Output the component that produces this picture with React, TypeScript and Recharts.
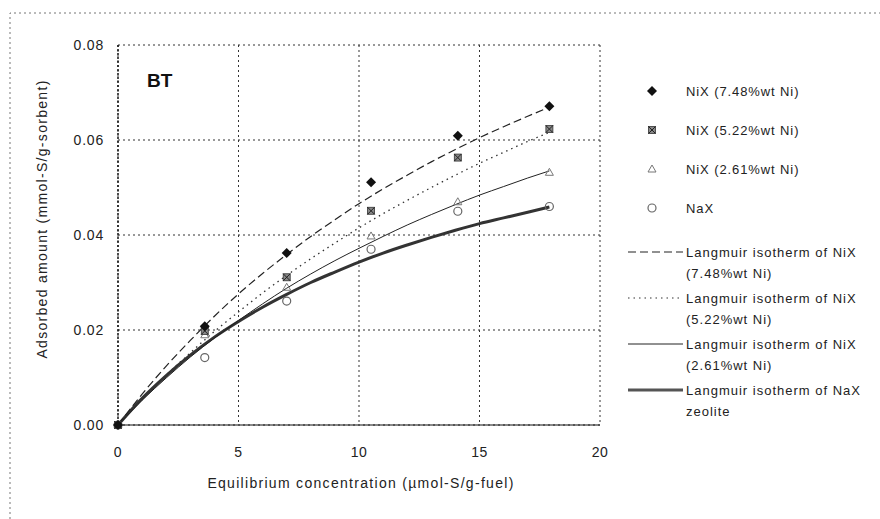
import { ComposedChart, Line, Scatter, XAxis, YAxis, CartesianGrid } from 'recharts';

// experimental equilibrium concentrations (µmol-S/g-fuel)
const expX = [0, 3.6, 7.0, 10.5, 14.1, 17.9];
const nix748 = [0, 0.0208, 0.0362, 0.0511, 0.0609, 0.0671];
const nix522 = [0, 0.0198, 0.0311, 0.0451, 0.0563, 0.0623];
const nix261 = [0, 0.0190, 0.0290, 0.0398, 0.0470, 0.0532];
const nax = [0, 0.0142, 0.0261, 0.0370, 0.0450, 0.0460];

// Langmuir isotherm curves
const curveX = [0, 1, 2, 3, 4, 5, 6, 7, 8, 9, 10, 11, 12, 13, 14, 15, 16, 17, 17.9];
const fit748 = [0, 0.0065, 0.0124, 0.0178, 0.0229, 0.0276, 0.0319, 0.0359, 0.0397, 0.0432, 0.0466, 0.0497, 0.0526, 0.0554, 0.0580, 0.0605, 0.0628, 0.0650, 0.0669];
const fit522 = [0, 0.0054, 0.0105, 0.0152, 0.0197, 0.0238, 0.0278, 0.0315, 0.0350, 0.0383, 0.0415, 0.0445, 0.0473, 0.0500, 0.0526, 0.0551, 0.0574, 0.0597, 0.0616];
const fit261 = [0, 0.0052, 0.0099, 0.0143, 0.0183, 0.0220, 0.0255, 0.0288, 0.0318, 0.0346, 0.0372, 0.0397, 0.0421, 0.0443, 0.0464, 0.0484, 0.0502, 0.0520, 0.0535];
const fitNax = [0, 0.0056, 0.0104, 0.0147, 0.0185, 0.0218, 0.0248, 0.0275, 0.0300, 0.0322, 0.0343, 0.0362, 0.0379, 0.0395, 0.0410, 0.0424, 0.0436, 0.0448, 0.0459];

const xTicks = [0, 5, 10, 15, 20];
const yTicks = [0, 0.02, 0.04, 0.06, 0.08];

const FONT = '"Liberation Sans", Arial, sans-serif';

const toPts = (xs: number[], ys: number[]) => xs.map((x, i) => ({ x, y: ys[i] }));

const Diamond = ({ cx, cy }: any) => (
  <polygon points={`${cx},${cy - 5} ${cx + 5},${cy} ${cx},${cy + 5} ${cx - 5},${cy}`} fill="#111" />
);
const HatchSquare = ({ cx, cy }: any) => (
  <g>
    <rect x={cx - 3.5} y={cy - 3.5} width={7} height={7} fill="#888" stroke="#333" strokeWidth={0.8} />
    <path d={`M${cx - 3.5},${cy - 3.5}L${cx + 3.5},${cy + 3.5}M${cx + 3.5},${cy - 3.5}L${cx - 3.5},${cy + 3.5}`} stroke="#222" strokeWidth={1} />
  </g>
);
const Triangle = ({ cx, cy }: any) => (
  <polygon points={`${cx},${cy - 4} ${cx + 4},${cy + 3} ${cx - 4},${cy + 3}`} fill="none" stroke="#777" strokeWidth={1} />
);
const Circle = ({ cx, cy }: any) => (
  <circle cx={cx} cy={cy} r={4} fill="none" stroke="#666" strokeWidth={1.2} />
);

const markerRows = [
  { label: 'NiX (7.48%wt Ni)', Shape: Diamond },
  { label: 'NiX (5.22%wt Ni)', Shape: HatchSquare },
  { label: 'NiX (2.61%wt Ni)', Shape: Triangle },
  { label: 'NaX', Shape: Circle },
];

const lineRows = [
  { l1: 'Langmuir isotherm of NiX', l2: '(7.48%wt Ni)', dash: '8 4', w: 1.2, color: '#222' },
  { l1: 'Langmuir isotherm of NiX', l2: '(5.22%wt Ni)', dash: '1.5 4', w: 1.2, color: '#333' },
  { l1: 'Langmuir isotherm of NiX', l2: '(2.61%wt Ni)', dash: undefined, w: 1, color: '#222' },
  { l1: 'Langmuir isotherm of NaX', l2: 'zeolite', dash: undefined, w: 3, color: '#555' },
];

export default function App() {
  return (
    <div style={{ position: 'absolute', left: 0, top: 0, width: 880, height: 519, background: '#fff', fontFamily: FONT }}>
      <ComposedChart width={880} height={519} margin={{ top: 45, right: 280, bottom: 64, left: 60 }}>
        <CartesianGrid stroke="#333" strokeDasharray="2 3" horizontalValues={yTicks} verticalValues={xTicks} />
        <XAxis
          type="number"
          dataKey="x"
          domain={[0, 20]}
          ticks={xTicks}
          tickLine={false}
          tickMargin={16}
          stroke="#111"
          tick={{ fill: '#222', fontSize: 14, fontFamily: FONT, letterSpacing: 0.5 }}
          allowDuplicatedCategory={false}
        />
        <YAxis
          type="number"
          dataKey="y"
          width={58}
          domain={[0, 0.08]}
          ticks={yTicks}
          tickLine={false}
          tickMargin={8}
          axisLine={{ stroke: '#111', strokeDasharray: '2 2', strokeWidth: 1.5 }}
          tickFormatter={(v: number) => v.toFixed(2)}
          tick={{ fill: '#222', fontSize: 14, fontFamily: FONT, letterSpacing: 0.8 }}
        />
        <Line data={toPts(curveX, fitNax)} dataKey="y" type="monotone" stroke="#333" strokeWidth={3} dot={false} isAnimationActive={false} />
        <Line data={toPts(curveX, fit261)} dataKey="y" type="monotone" stroke="#222" strokeWidth={1} dot={false} isAnimationActive={false} />
        <Line data={toPts(curveX, fit522)} dataKey="y" type="monotone" stroke="#333" strokeWidth={1.3} strokeDasharray="1.5 4" dot={false} isAnimationActive={false} />
        <Line data={toPts(curveX, fit748)} dataKey="y" type="monotone" stroke="#222" strokeWidth={1.2} strokeDasharray="8 4" dot={false} isAnimationActive={false} />
        <Scatter data={toPts(expX, nax)} dataKey="y" shape={<Circle />} isAnimationActive={false} />
        <Scatter data={toPts(expX, nix261)} dataKey="y" shape={<Triangle />} isAnimationActive={false} />
        <Scatter data={toPts(expX, nix522)} dataKey="y" shape={<HatchSquare />} isAnimationActive={false} />
        <Scatter data={toPts(expX, nix748)} dataKey="y" shape={<Diamond />} isAnimationActive={false} />
      </ComposedChart>

      <svg width={880} height={519} style={{ position: 'absolute', left: 0, top: 0, pointerEvents: 'none' }}>
        <path d="M10,519 L10,13 L880,13" fill="none" stroke="#777" strokeDasharray="2 3" strokeWidth={1} />
        <text x={147} y={87} fontSize={19} fontWeight="bold" fontFamily={FONT} fill="#111">BT</text>
        <text x={42} y={219} dy={5} fontSize={14} letterSpacing={1.3} fontFamily={FONT} fill="#222" textAnchor="middle" transform="rotate(-90 42 219)">
          Adsorbed amount (mmol-S/g-sorbent)
        </text>
        <text x={361} y={488} fontSize={14} letterSpacing={1.3} fontFamily={FONT} fill="#222" textAnchor="middle">
          Equilibrium concentration (µmol-S/g-fuel)
        </text>
        {markerRows.map((r, i) => {
          const y = 91 + i * 39;
          const S = r.Shape;
          return (
            <g key={r.label}>
              <S cx={652} cy={y} />
              <text x={686} y={y + 5} fontSize={13} letterSpacing={0.9} fontFamily={FONT} fill="#222">{r.label}</text>
            </g>
          );
        })}
        {lineRows.map((r, i) => {
          const y = 252 + i * 46;
          return (
            <g key={i}>
              <line x1={628} x2={683} y1={y} y2={y} stroke={r.color} strokeWidth={r.w} strokeDasharray={r.dash} />
              <text x={686} y={y + 5} fontSize={13} letterSpacing={1} fontFamily={FONT} fill="#222">{r.l1}</text>
              <text x={686} y={y + 26} fontSize={13} letterSpacing={1} fontFamily={FONT} fill="#222">{r.l2}</text>
            </g>
          );
        })}
      </svg>
    </div>
  );
}
